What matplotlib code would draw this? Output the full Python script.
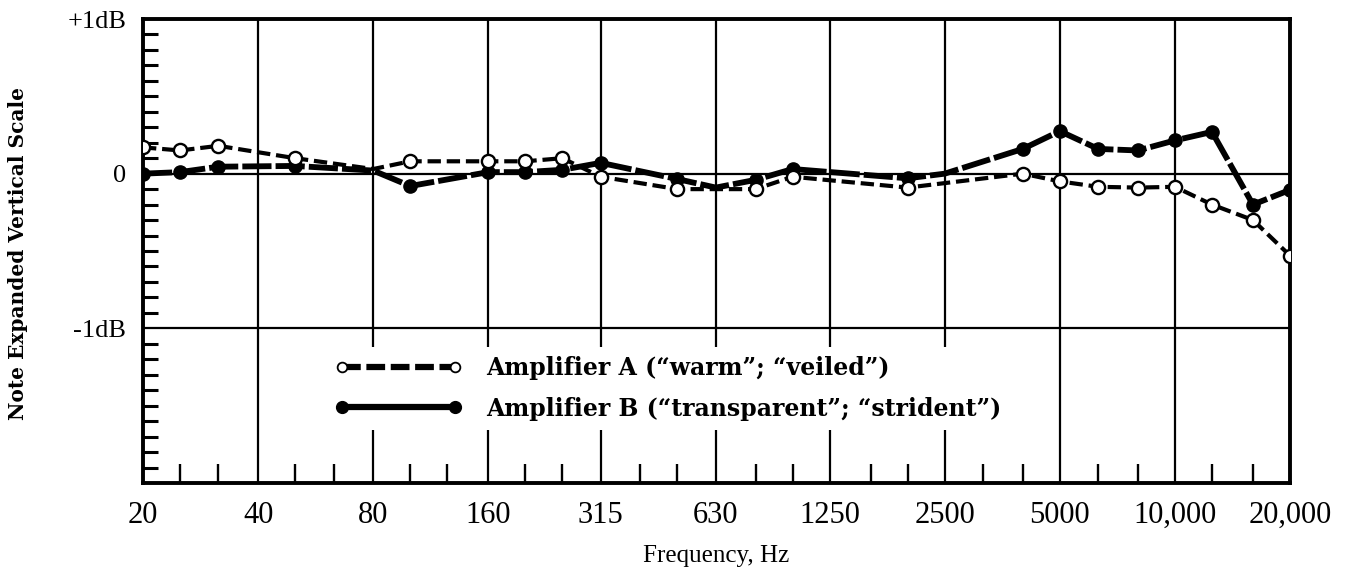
import numpy as np
import matplotlib.pyplot as plt
from matplotlib.lines import Line2D
from matplotlib.ticker import FixedLocator, NullFormatter

plt.rcParams["font.family"] = ["Liberation Serif", "DejaVu Serif"]

# octave gridlines and their printed labels
octave_hz = [20, 40, 80, 160, 315, 630, 1250, 2500, 5000, 10000, 20000]
octave_labels = ["20", "40", "80", "160", "315", "630", "1250", "2500",
                 "5000", "10,000", "20,000"]
# third-octave tick marks along the bottom
third_hz = [25, 31.5, 50, 63, 100, 125, 200, 250, 400, 500, 800, 1000,
            1600, 2000, 3150, 4000, 6300, 8000, 12500, 16000]

# Amplifier A ("warm"; "veiled"), dB
freq_a = [20, 25, 31.5, 50, 80, 100, 160, 200, 250, 315, 500, 800, 1000,
          2000, 4000, 5000, 6300, 8000, 10000, 12500, 16000, 20000]
db_a = [0.17, 0.15, 0.18, 0.10, 0.03, 0.08, 0.08, 0.08, 0.10, -0.02, -0.10,
        -0.10, -0.02, -0.09, 0.0, -0.05, -0.085, -0.09, -0.085, -0.20, -0.30,
        -0.53]
hidden_a = [80]  # points where no circle is printed

# Amplifier B ("transparent"; "strident")
freq_b = [20, 25, 31.5, 50, 80, 100, 160, 200, 250, 315, 500, 630, 800, 1000,
          2000, 2500, 4000, 5000, 6300, 8000, 10000, 12500, 16000, 20000]
db_b = [0.0, 0.01, 0.045, 0.05, 0.02, -0.08, 0.01, 0.01, 0.025, 0.07, -0.035,
        -0.09, -0.04, 0.03, -0.03, 0.0, 0.16, 0.275, 0.16, 0.15, 0.215, 0.27,
        -0.20, -0.105]
hidden_b = [80, 630, 2500]

W, H = 1345, 573
fig = plt.figure(figsize=(W / 100, H / 100), dpi=100)
ax = fig.add_axes([143 / W, 1 - 483 / H, 1147 / W, 464 / H])

ax.set_xscale("log")
ax.set_xlim(20, 20000)
ax.set_ylim(-2, 1)

# grid
for f in octave_hz[1:-1]:
    ax.axvline(f, color="black", lw=1.6, zorder=1)
for y in (0, -1):
    ax.axhline(y, color="black", lw=1.6, zorder=1)

# B underneath, A on top
mk_b = [i for i, f in enumerate(freq_b) if f not in hidden_b]
ax.plot(freq_b, db_b, color="black", lw=4.2, dashes=(5, 0.7),
        marker="o", ms=9.5, mfc="black", mec="black", markevery=mk_b, zorder=3)
mk_a = [i for i, f in enumerate(freq_a) if f not in hidden_a]
ax.plot(freq_a, db_a, color="black", lw=3.0, dashes=(3.2, 1.4),
        marker="o", ms=9.5, mfc="white", mec="black", mew=1.7,
        markevery=mk_a, zorder=4)

# ticks
ax.set_xticks(octave_hz)
ax.set_xticklabels(octave_labels)
ax.xaxis.set_minor_locator(FixedLocator(third_hz))
ax.xaxis.set_minor_formatter(NullFormatter())
ax.tick_params(axis="x", which="major", length=0, pad=13, labelsize=22)
ax.tick_params(axis="x", which="minor", direction="in", length=14, width=1.7)

ax.set_yticks([-1, 0, 1])
ax.set_yticklabels(["-1dB", "0", "+1dB"])
ax.yaxis.set_minor_locator(FixedLocator(np.arange(-1.9, 1.0, 0.1)))
ax.tick_params(axis="y", which="major", length=0, pad=12, labelsize=19)
ax.tick_params(axis="y", which="minor", direction="in", length=11, width=2.2)

for sp in ax.spines.values():
    sp.set_linewidth(2.8)

handles = [
    Line2D([], [], color="black", lw=4.5, dashes=(3.0, 0.9), marker="o", ms=7,
           mfc="white", mec="black", mew=1.3),
    Line2D([], [], color="black", lw=4.5, marker="o", ms=8.5, mfc="black"),
]
labels = ["Amplifier A (\u201cwarm\u201d; \u201cveiled\u201d)",
          "Amplifier B (\u201ctransparent\u201d; \u201cstrident\u201d)"]
leg = ax.legend(handles, labels, loc="upper left", bbox_to_anchor=(0.159, 0.293),
                borderaxespad=0, numpoints=2, handlelength=5.4, handletextpad=1.0,
                labelspacing=0.68, borderpad=0.4, fancybox=False, framealpha=1,
                edgecolor="none", facecolor="white",
                prop=dict(family="DejaVu Serif", weight="bold", size=17))
leg.set_zorder(5)

fig.text(18 / W, 1 - 253 / H, "Note Expanded Vertical Scale", rotation=90,
         ha="center", va="center", family="DejaVu Serif", weight="bold",
         fontsize=14.5)
fig.text(716 / W, 1 - 556 / H, "Frequency, Hz", ha="center", va="center",
         fontsize=18)

fig.savefig("out.png", dpi=100)
